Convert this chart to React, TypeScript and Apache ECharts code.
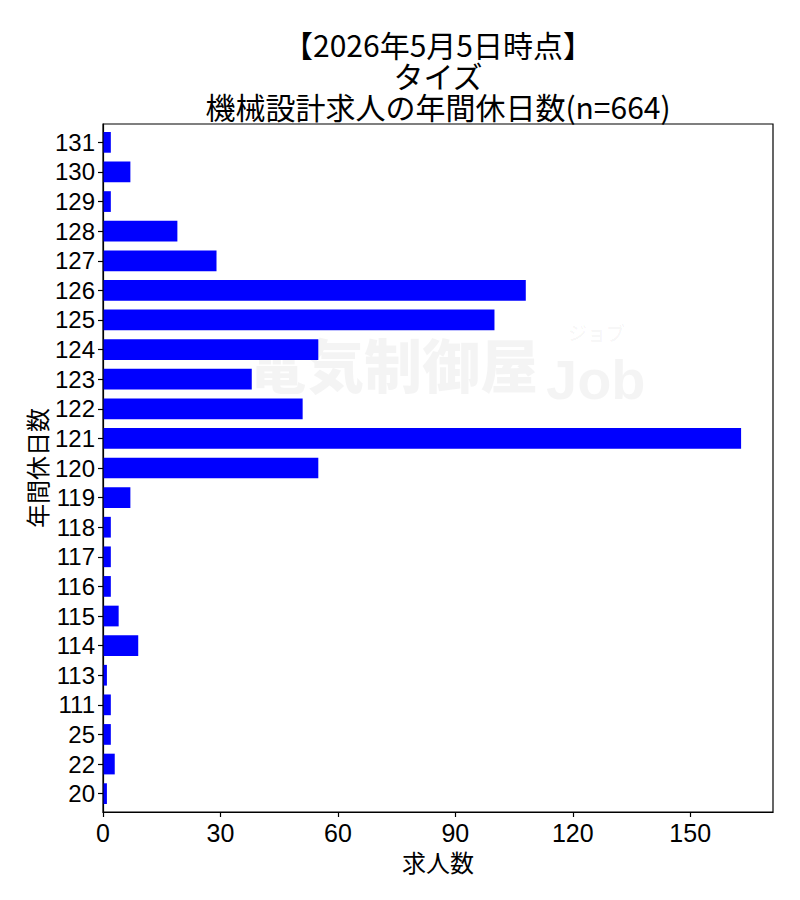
import React, { useEffect, useRef } from "react";
import * as echarts from "echarts";

const TITLE_LINES = ["【2026年5月5日時点】", "タイズ", "機械設計求人の年間休日数(n=664)"];
const CATEGORIES = ["20", "22", "25", "111", "113", "114", "115", "116", "117", "118", "119", "120", "121", "122", "123", "124", "125", "126", "127", "128", "129", "130", "131"];
const VALUES = [1, 3, 2, 2, 1, 9, 4, 2, 2, 2, 7, 55, 163, 51, 38, 55, 100, 108, 29, 19, 2, 7, 2];
const X_TICKS = [0, 30, 60, 90, 120, 150];
const X_NAME = "求人数";
const Y_NAME = "年間休日数";
const WATERMARK_MAIN = "電気制御屋";
const WATERMARK_JOB = "Job";
const WATERMARK_SUB = "ジョブ";

const FONT = '"Noto Sans CJK JP", "Noto Sans", sans-serif';
const NUM_FONT = '"Liberation Sans", "Noto Sans CJK JP", sans-serif';
const BAR_H = 0.7;

export default function App() {
  const ref = useRef<HTMLDivElement>(null);
  useEffect(() => {
    if (!ref.current) return;
    const chart = echarts.init(ref.current, null, { renderer: "svg" });
    const yIdx = CATEGORIES.map((_, i) => i);
    const wm = "rgba(0,0,0,0.045)";
    chart.setOption({
      animation: false,
      backgroundColor: "#ffffff",
      textStyle: { fontFamily: FONT },
      title: TITLE_LINES.map((t, i) => ({
        text: t,
        left: 438,
        top: 28 + 31 * i,
        textAlign: "center",
        padding: 0,
        textStyle: { fontFamily: FONT, fontSize: 30, lineHeight: 31, fontWeight: "normal", color: "#000" },
      })),
      graphic: [
        {
          type: "text",
          z: -10,
          silent: true,
          x: 248,
          y: 334,
          style: { text: WATERMARK_MAIN, font: `900 58px ${FONT}`, fill: wm },
        },
        {
          type: "text",
          z: -10,
          silent: true,
          x: 546,
          y: 351,
          style: { text: WATERMARK_JOB, font: `bold 56px "Liberation Sans", sans-serif`, fill: wm },
        },
        {
          type: "text",
          z: -10,
          silent: true,
          x: 568,
          y: 323,
          style: { text: WATERMARK_SUB, font: `500 19px ${FONT}`, fill: wm },
        },
      ],
      grid: {
        left: 103,
        right: 27,
        top: 124,
        bottom: 88,
        show: true,
        borderColor: "#000",
        borderWidth: 1.2,
        backgroundColor: "transparent",
        z: 5,
      },
      xAxis: {
        type: "value",
        min: 0,
        max: 171.15,
        name: X_NAME,
        nameLocation: "middle",
        nameGap: 36,
        nameTextStyle: { fontFamily: FONT, fontSize: 24, color: "#000" },
        axisLine: { show: true, onZero: false, lineStyle: { color: "#000", width: 1.2 } },
        axisTick: { show: true, length: 5, customValues: X_TICKS, lineStyle: { color: "#000", width: 1.2 } },
        axisLabel: { customValues: X_TICKS, margin: 8, fontFamily: NUM_FONT, fontSize: 25, color: "#000" },
        splitLine: { show: false },
      },
      yAxis: {
        type: "value",
        min: -0.62,
        max: 22.62,
        name: Y_NAME,
        nameLocation: "middle",
        nameRotate: 90,
        nameGap: 55,
        nameMoveOverlap: false,
        nameTextStyle: { fontFamily: FONT, fontSize: 24, color: "#000" },
        axisLine: { show: true, onZero: false, lineStyle: { color: "#000", width: 1.2 } },
        axisTick: { show: true, length: 5, customValues: yIdx, lineStyle: { color: "#000", width: 1.2 } },
        axisLabel: {
          customValues: yIdx,
          margin: 8,
          fontFamily: NUM_FONT,
          fontSize: 24,
          color: "#000",
          formatter: (v: number) => CATEGORIES[Math.round(v)] ?? "",
        },
        splitLine: { show: false },
      },
      series: [
        {
          type: "custom",
          encode: { x: 0, y: 1 },
          data: VALUES.map((v, i) => [v, i]),
          renderItem: (_params: any, api: any) => {
            const val = api.value(0);
            const idx = api.value(1);
            const start = api.coord([0, idx]);
            const end = api.coord([val, idx]);
            const h = Math.abs(api.size([0, BAR_H])[1]);
            return {
              type: "rect",
              shape: { x: start[0], y: start[1] - h / 2, width: end[0] - start[0], height: h },
              style: { fill: "#0000ff" },
            };
          },
        },
      ],
    });
    return () => chart.dispose();
  }, []);
  return <div ref={ref} style={{ position: "absolute", left: 0, top: 0, width: 800, height: 900 }} />;
}
